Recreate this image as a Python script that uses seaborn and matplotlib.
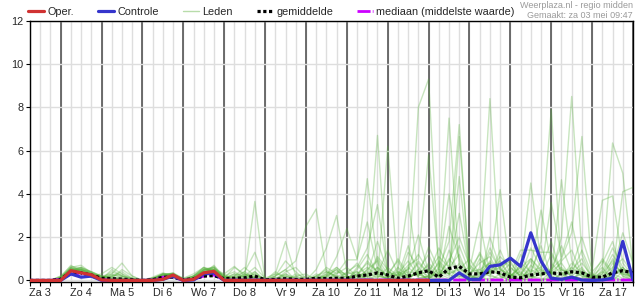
import numpy as np
import pandas as pd
import matplotlib
matplotlib.use("Agg")
import matplotlib.pyplot as plt
import seaborn as sns

# ---------------- data (6-hourly steps starting Za 3 06:00) ----------------
day_labels = ["Za 3", "Zo 4", "Ma 5", "Di 6", "Wo 7", "Do 8", "Vr 9", "Za 10",
              "Zo 11", "Ma 12", "Di 13", "Wo 14", "Do 15", "Vr 16", "Za 17"]
n_steps = 60
start_hour = 6

oper = [0, 0, 0, 0.0, 0.45, 0.35, 0.26, 0.02, 0, 0, 0, 0, 0, 0.05, 0.25,
        0.0, 0.05, 0.35, 0.42, 0.0, 0, 0, 0, 0, 0, 0, 0, 0, 0, 0, 0, 0, 0, 0, 0,
        0, 0, 0, 0, 0]

controle = [0, 0, 0, 0.0, 0.3, 0.15, 0.2, 0.0, 0, 0, 0, 0, 0, 0.05, 0.2,
            0.0, 0.02, 0.3, 0.35, 0.0, 0, 0, 0, 0, 0, 0, 0, 0, 0, 0, 0, 0, 0, 0, 0,
            0, 0, 0, 0, 0, 0, 0, 0.35, 0.05, 0.05, 0.65, 0.72, 1.03, 0.65, 2.2, 0.9,
            0.1, 0.05, 0.15, 0.02, 0.0, 0.02, 0.1, 1.8, 0.02]

gemiddelde = [0, 0, 0, 0.05, 0.4, 0.35, 0.25, 0.1, 0.08, 0.06, 0.03,
              0.0, 0.03, 0.15, 0.15, 0.03, 0.08, 0.2, 0.22, 0.08, 0.1, 0.12, 0.2,
              0.03, 0.05, 0.08, 0.05, 0.05, 0.1, 0.08, 0.1, 0.1, 0.2, 0.25, 0.35,
              0.25, 0.1, 0.2, 0.35, 0.45, 0.15, 0.55, 0.65, 0.3, 0.3, 0.4, 0.35,
              0.15, 0.12, 0.25, 0.3, 0.35, 0.3, 0.4, 0.35, 0.15, 0.15, 0.35, 0.45,
              0.35]

mediaan = [0, 0, 0, 0.05, 0.3, 0.3, 0.2, 0.05, 0.0, 0.0, 0.0, 0.0, 0.02, 0.15,
           0.15, 0.0, 0.05, 0.2, 0.25, 0.02, 0.02, 0.02, 0.02, 0.02, 0.02, 0.02,
           0.02, 0.02, 0.02, 0.02, 0.02, 0.02, 0.02, 0.02, 0.02, 0.02, 0.02, 0.02,
           0.02, 0.02, 0.02, 0.02, 0.02, 0.02, 0.02, 0.02, 0.02, 0.02, 0.02, 0.02,
           0.02, 0.02, 0.02, 0.02, 0.02, 0.02, 0.02, 0.02, 0.02, 0.02]

m01 = [0, 0, 0, 0.1, 0.6, 0.5, 0.3, 0.1, 0.0, 0.0, 0.0, 0.0, 0.05, 0.25, 0.3, 0.05, 0.1, 0.5, 0.6, 0.1, 0.3, 0.2, 3.65, 0.0, 0.0, 0.1, 0.0, 0.0, 0.2, 0.5, 0.1, 0.0, 0.3, 0.8, 0.4, 0.2, 0.1, 0.3, 8.0, 9.3, 0.4, 0.3, 0.0, 0.0, 0.5, 0.8, 0.3, 0.2, 0.6, 1.0, 0.4, 0.3, 2.0, 8.5, 1.2, 0.1, 0.0, 0.3, 0.5, 0.2]
m02 = [0, 0, 0, 0.05, 0.5, 0.6, 0.4, 0.15, 0.1, 0.05, 0.0, 0.0, 0.1, 0.3, 0.2, 0.0, 0.05, 0.4, 0.5, 0.2, 0.1, 0.4, 1.3, 0.0, 0.1, 0.0, 0.0, 0.0, 0.0, 0.3, 0.6, 0.2, 0.1, 0.5, 6.7, 0.0, 0.4, 0.2, 0.9, 0.3, 1.5, 0.6, 0.2, 0.1, 0.0, 0.4, 1.1, 0.6, 0.2, 0.3, 1.8, 7.9, 0.5, 0.2, 0.6, 0.0, 0.3, 1.2, 0.4, 0.1]
m03 = [0, 0, 0, 0.15, 0.7, 0.4, 0.2, 0.05, 0.5, 0.2, 0.0, 0.0, 0.0, 0.2, 0.35, 0.1, 0.2, 0.6, 0.4, 0.05, 0.1, 0.2, 0.6, 0.1, 0.3, 1.8, 0.2, 0.0, 0.1, 0.0, 0.4, 0.3, 0.8, 0.2, 0.0, 6.2, 0.3, 0.1, 0.5, 1.2, 0.2, 0.0, 0.8, 0.0, 0.3, 1.5, 0.5, 0.2, 0.0, 0.7, 0.3, 0.5, 1.0, 2.2, 6.65, 0.3, 0.0, 0.2, 0.6, 0.0]
m04 = [0, 0, 0, 0.1, 0.4, 0.5, 0.35, 0.2, 0.3, 0.8, 0.2, 0.0, 0.05, 0.3, 0.25, 0.0, 0.15, 0.45, 0.55, 0.3, 0.0, 0.1, 0.2, 0.0, 0.2, 0.5, 0.9, 2.5, 3.3, 0.4, 0.1, 0.0, 0.5, 1.2, 0.3, 0.1, 0.0, 0.6, 0.2, 0.8, 0.3, 7.5, 0.6, 0.0, 0.2, 0.9, 0.4, 1.1, 0.3, 0.2, 0.0, 0.4, 0.8, 0.1, 0.3, 0.0, 0.5, 6.35, 4.95, 0.6]
m05 = [0, 0, 0, 0.05, 0.55, 0.45, 0.25, 0.1, 0.2, 0.4, 0.1, 0.0, 0.1, 0.2, 0.3, 0.05, 0.1, 0.3, 0.7, 0.1, 0.6, 0.3, 0.1, 0.0, 0.0, 0.3, 0.1, 0.0, 0.5, 1.5, 3.0, 0.4, 0.2, 0.1, 1.0, 0.3, 0.9, 0.1, 0.4, 0.0, 0.6, 1.8, 7.2, 0.2, 0.0, 0.5, 0.3, 0.0, 0.8, 0.4, 1.6, 0.2, 4.65, 0.9, 0.3, 0.1, 0.0, 0.8, 0.3, 0.2]
m06 = [0, 0, 0, 0.2, 0.65, 0.55, 0.3, 0.1, 0.05, 0.1, 0.0, 0.0, 0.0, 0.15, 0.25, 0.0, 0.2, 0.55, 0.45, 0.1, 0.2, 0.0, 0.4, 0.0, 0.1, 0.2, 0.0, 0.0, 0.0, 0.2, 1.1, 2.4, 1.0, 2.7, 0.5, 0.2, 0.0, 1.3, 0.6, 0.1, 0.4, 0.2, 6.65, 0.5, 1.2, 0.3, 0.0, 0.6, 0.2, 1.0, 0.5, 0.0, 0.3, 0.6, 2.0, 0.5, 3.7, 3.9, 0.8, 0.2]
m07 = [0, 0, 0, 0.1, 0.5, 0.4, 0.2, 0.3, 0.6, 0.3, 0.1, 0.0, 0.05, 0.2, 0.15, 0.0, 0.1, 0.35, 0.5, 0.2, 0.1, 0.3, 0.0, 0.0, 0.4, 0.1, 0.0, 0.0, 0.1, 0.6, 0.3, 0.95, 0.95, 4.7, 0.8, 0.0, 0.3, 0.9, 0.2, 0.5, 0.0, 1.4, 0.3, 0.0, 0.6, 8.4, 0.5, 0.2, 0.4, 0.0, 0.9, 0.3, 0.6, 0.2, 0.1, 0.4, 0.9, 0.3, 4.1, 4.3]
m08 = [0, 0, 0, 0.05, 0.45, 0.6, 0.35, 0.1, 0.0, 0.2, 0.05, 0.0, 0.15, 0.35, 0.2, 0.0, 0.05, 0.5, 0.6, 0.15, 0.2, 0.6, 0.2, 0.1, 0.0, 0.0, 0.3, 0.1, 0.0, 0.4, 0.2, 0.0, 0.6, 1.5, 3.5, 0.4, 0.2, 0.7, 1.0, 5.8, 0.7, 0.3, 0.5, 1.0, 0.3, 0.6, 4.2, 0.3, 0.1, 0.5, 0.2, 1.2, 0.4, 0.0, 0.5, 0.0, 0.2, 0.6, 1.0, 0.3]
m09 = [0, 0, 0, 0.1, 0.6, 0.35, 0.15, 0.05, 0.1, 0.5, 0.2, 0.0, 0.0, 0.25, 0.3, 0.1, 0.3, 0.6, 0.3, 0.0, 0.0, 0.1, 0.3, 0.0, 0.2, 0.9, 0.4, 0.0, 0.3, 0.1, 0.0, 0.2, 0.0, 0.5, 0.9, 0.1, 0.5, 3.65, 0.3, 0.0, 0.9, 0.4, 4.8, 0.3, 0.8, 1.1, 0.2, 0.0, 0.5, 4.5, 0.8, 0.4, 0.1, 0.8, 0.3, 0.2, 0.6, 0.0, 0.4, 0.1]
m10 = [0, 0, 0, 0.15, 0.5, 0.5, 0.4, 0.2, 0.15, 0.1, 0.05, 0.0, 0.1, 0.3, 0.3, 0.05, 0.2, 0.4, 0.35, 0.2, 0.4, 0.1, 0.0, 0.0, 0.1, 0.0, 0.2, 0.3, 0.0, 0.2, 0.5, 0.1, 0.4, 0.0, 0.6, 0.2, 1.0, 0.3, 0.2, 1.55, 0.5, 4.0, 0.9, 0.2, 1.3, 0.4, 0.6, 0.9, 0.1, 0.6, 3.25, 0.8, 0.3, 0.5, 1.0, 0.0, 0.4, 1.5, 0.6, 0.2]
m11 = [0, 0, 0, 0.05, 0.4, 0.45, 0.3, 0.15, 0.25, 0.2, 0.1, 0.0, 0.05, 0.15, 0.2, 0.0, 0.1, 0.45, 0.65, 0.2, 0.0, 0.2, 0.1, 0.0, 0.3, 0.2, 0.0, 0.0, 0.2, 0.0, 0.3, 0.6, 0.2, 0.9, 0.4, 0.0, 0.3, 0.5, 1.2, 0.4, 1.1, 0.6, 3.1, 0.5, 2.7, 0.3, 0.8, 0.2, 0.7, 0.2, 0.4, 3.6, 1.1, 2.7, 0.5, 0.1, 0.3, 0.9, 0.2, 0.0]
m12 = [0, 0, 0, 0.1, 0.55, 0.5, 0.25, 0.05, 0.3, 0.1, 0.0, 0.0, 0.1, 0.25, 0.35, 0.0, 0.15, 0.5, 0.4, 0.3, 0.65, 0.2, 0.3, 0.0, 0.0, 0.4, 0.6, 0.1, 0.0, 0.3, 0.0, 0.4, 0.7, 0.2, 1.1, 0.5, 0.0, 0.2, 0.8, 0.3, 0.2, 1.0, 0.4, 0.6, 0.2, 1.3, 0.5, 0.3, 1.4, 1.4, 1.3, 1.3, 0.5, 0.3, 0.8, 0.2, 1.0, 0.4, 0.3, 0.0]
m13 = [0, 0, 0, 0.1, 0.35, 0.55, 0.3, 0.1, 0.0, 0.0, 0.05, 0.0, 0.05, 0.2, 0.25, 0.0, 0.1, 0.4, 0.5, 0.1, 0.0, 0.1, 0.05, 0.0, 0.0, 0.1, 0.0, 0.2, 0.1, 0.0, 0.2, 0.0, 0.3, 0.6, 0.2, 0.1, 0.6, 0.2, 0.3, 0.7, 0.1, 2.5, 1.0, 0.3, 0.0, 2.0, 0.6, 0.1, 0.3, 0.9, 0.2, 0.5, 1.6, 0.4, 0.2, 0.0, 0.8, 1.8, 0.3, 0.1]
m14 = [0, 0, 0, 0.05, 0.6, 0.7, 0.35, 0.1, 0.2, 0.3, 0.0, 0.0, 0.0, 0.3, 0.2, 0.0, 0.05, 0.35, 0.6, 0.05, 0.2, 0.4, 0.1, 0.0, 0.0, 0.2, 0.1, 0.0, 0.0, 0.1, 0.6, 0.2, 0.0, 0.3, 1.8, 0.4, 0.2, 1.6, 0.1, 0.2, 0.8, 0.3, 1.6, 0.4, 0.5, 0.2, 1.4, 0.3, 0.0, 0.4, 0.6, 1.8, 0.3, 0.0, 0.4, 0.2, 0.0, 0.5, 2.2, 0.8]
m15 = [0, 0, 0, 0.1, 0.45, 0.4, 0.3, 0.2, 0.1, 0.05, 0.0, 0.0, 0.1, 0.2, 0.3, 0.05, 0.2, 0.5, 0.5, 0.1, 0.0, 0.0, 0.2, 0.0, 0.1, 0.3, 0.0, 0.0, 0.2, 0.4, 0.2, 0.3, 0.4, 0.0, 0.3, 1.4, 0.3, 0.0, 0.5, 0.2, 0.3, 0.9, 2.0, 0.7, 0.3, 0.8, 0.2, 0.0, 1.2, 0.3, 0.5, 0.2, 0.9, 1.4, 0.3, 0.0, 0.2, 0.3, 0.6, 0.1]
m16 = [0, 0, 0, 0.2, 0.5, 0.4, 0.2, 0.1, 0.4, 0.2, 0.1, 0.0, 0.05, 0.3, 0.3, 0.0, 0.1, 0.4, 0.3, 0.0, 0.1, 0.2, 0.4, 0.0, 0.0, 0.0, 0.2, 0.0, 0.1, 0.2, 0.5, 0.0, 0.2, 0.4, 0.1, 0.6, 0.2, 0.5, 2.1, 0.4, 0.2, 0.6, 1.2, 0.1, 1.0, 0.4, 0.3, 0.8, 0.2, 1.5, 0.6, 0.1, 0.5, 0.3, 1.4, 0.3, 0.1, 1.0, 0.2, 0.0]
m17 = [0, 0, 0, 0.1, 0.4, 0.6, 0.4, 0.2, 0.1, 0.0, 0.0, 0.0, 0.05, 0.1, 0.2, 0.0, 0.2, 0.6, 0.5, 0.1, 0.3, 0.0, 0.1, 0.0, 0.1, 0.0, 0.0, 0.0, 0.0, 0.2, 0.0, 0.1, 0.2, 0.3, 0.6, 0.2, 0.4, 0.1, 0.0, 0.2, 0.5, 0.3, 0.6, 0.2, 0.1, 0.5, 0.9, 0.2, 0.6, 0.1, 0.3, 0.4, 0.0, 0.6, 0.2, 0.1, 0.4, 0.2, 0.5, 0.1]
m18 = [0, 0, 0, 0.05, 0.5, 0.45, 0.2, 0.05, 0.0, 0.1, 0.0, 0.0, 0.0, 0.2, 0.2, 0.0, 0.1, 0.3, 0.4, 0.0, 0.0, 0.0, 0.0, 0.0, 0.2, 0.5, 0.0, 0.0, 0.0, 0.0, 0.1, 0.2, 0.0, 0.2, 0.3, 0.0, 0.2, 0.4, 0.3, 0.1, 0.3, 0.1, 0.2, 0.0, 0.4, 0.2, 0.1, 0.3, 0.0, 0.2, 0.1, 0.0, 0.3, 0.1, 0.0, 0.2, 0.0, 0.3, 0.1, 0.0]
m19 = [0, 0, 0, 0.1, 0.55, 0.4, 0.25, 0.1, 0.2, 0.0, 0.0, 0.0, 0.1, 0.15, 0.1, 0.0, 0.05, 0.2, 0.3, 0.1, 0.0, 0.3, 0.1, 0.0, 0.0, 0.0, 0.0, 0.0, 0.1, 0.0, 0.0, 0.0, 0.1, 0.0, 0.2, 0.1, 0.0, 0.1, 0.4, 0.0, 0.2, 0.5, 0.1, 0.0, 0.2, 0.0, 0.3, 0.1, 0.0, 0.1, 0.0, 0.2, 0.0, 0.0, 0.1, 0.0, 0.1, 0.2, 0.0, 0.0]
m20 = [0, 0, 0, 0.1, 0.45, 0.5, 0.3, 0.15, 0.05, 0.0, 0.0, 0.0, 0.05, 0.2, 0.3, 0.0, 0.1, 0.4, 0.45, 0.05, 0.1, 0.0, 0.0, 0.0, 0.0, 0.1, 0.0, 0.0, 0.0, 0.0, 0.0, 0.0, 0.0, 0.1, 0.0, 0.0, 0.1, 0.0, 0.1, 0.2, 0.0, 0.0, 0.3, 0.0, 0.0, 0.1, 0.0, 0.0, 0.1, 0.0, 0.0, 0.1, 0.0, 0.0, 0.0, 0.0, 0.0, 0.1, 0.0, 0.0]
leden = [m01, m02, m03, m04, m05, m06, m07, m08, m09, m10,
         m11, m12, m13, m14, m15, m16, m17, m18, m19, m20]

legend_labels = ["Oper.", "Controle", "Leden", "gemiddelde",
                 "mediaan (middelste waarde)"]
source_text = "Weerplaza.nl - regio midden"
made_text = "Gemaakt: za 03 mei 09:47"

# ---------------- styling ----------------
sns.set_theme(style="white")
plt.rcParams["font.family"] = ["Liberation Sans", "DejaVu Sans"]
plt.rcParams["font.size"] = 7.8

c_oper = "#d03232"
c_ctrl = "#3535cc"
c_leden = "#55b03a"
c_mean = "#000000"
c_med = "#cc00ff"

steps = np.arange(n_steps)
hours = start_hour + 6 * steps
noon_pos = steps[hours % 24 == 12]
midnight_pos = steps[hours % 24 == 0]

fig = plt.figure(figsize=(6.35, 3.0), dpi=100)
ax = fig.add_axes([30 / 635, 1 - 281.5 / 300, 603 / 635, (281.5 - 20.7) / 300])
ax.set_facecolor("white")

# grid
for s in steps:
    ax.axvline(s, color="#dedede", lw=1.0, zorder=0)
for s in midnight_pos:
    ax.axvline(s, color="#555555", lw=1.2, zorder=0.5)

# members
rows = []
for k, m in enumerate(leden):
    for s, v in zip(steps, m):
        rows.append((k, s, v))
df_l = pd.DataFrame(rows, columns=["member", "t", "v"])
sns.lineplot(data=df_l, x="t", y="v", units="member", estimator=None,
             color=c_leden, alpha=0.32, lw=1.0, legend=False, ax=ax, zorder=2)
h_leden = plt.Line2D([], [], color="#b8dcaa", lw=1.0)

dash_med = (0, (4.7, 0.8, 0.4, 0.8))
n0 = len(ax.lines)
sns.lineplot(x=steps, y=mediaan, color=c_med, lw=2.0, ax=ax, zorder=3,
             linestyle=dash_med, legend=False)
h_med = ax.lines[n0]

n0 = len(ax.lines)
sns.lineplot(x=steps, y=gemiddelde, color=c_mean, lw=2.3, ax=ax, zorder=4,
             linestyle=(0, (1, 0.8)), legend=False)
h_mean = ax.lines[n0]

n0 = len(ax.lines)
sns.lineplot(x=steps, y=controle, color=c_ctrl, lw=2.3, ax=ax, zorder=5,
             legend=False)
h_ctrl = ax.lines[n0]

n0 = len(ax.lines)
sns.lineplot(x=steps[:len(oper)], y=oper, color=c_oper, lw=2.3, ax=ax, zorder=6,
             legend=False)
h_oper = ax.lines[n0]

ax.set_xlim(0, n_steps - 1)
ax.set_ylim(-0.05, 12)
ax.set_yticks(np.arange(0, 13, 2))
ax.yaxis.grid(True, color="#dedede", lw=1.0)
ax.set_axisbelow(True)
ax.set_xticks(noon_pos)
ax.set_xticklabels(day_labels)
ax.set_xticks(steps, minor=True)
ax.tick_params(axis="x", which="both", direction="out", length=3, width=0.8,
               color="black", bottom=True, labelsize=7.8, pad=1.5)
ax.tick_params(axis="y", which="major", direction="out", length=3, width=0.8,
               color="black", left=True, labelsize=7.8, pad=1.5)
ax.set_xlabel("")
ax.set_ylabel("")
for sp in ax.spines.values():
    sp.set_visible(True)
    sp.set_color("black")
    sp.set_linewidth(1.0)

fig.legend([h_oper, h_ctrl, h_leden, h_mean, h_med], legend_labels,
           loc="center left", bbox_to_anchor=(28 / 635, 1 - 12 / 300),
           ncol=5, frameon=False, borderpad=0, borderaxespad=0,
           handlelength=1.5, handletextpad=0.3, columnspacing=2.2,
           fontsize=7.8)

fig.text(633 / 635, 1 - 5 / 300, source_text, ha="right", va="center",
         fontsize=6.5, color="#9a9a9a")
fig.text(633 / 635, 1 - 15.5 / 300, made_text, ha="right", va="center",
         fontsize=6.5, color="#9a9a9a")

fig.savefig("out.png", dpi=100)
